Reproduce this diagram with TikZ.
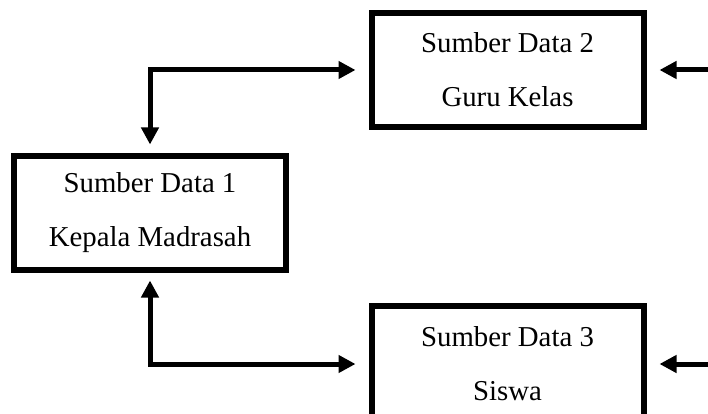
\documentclass[tikz,border=0pt]{standalone}
\usepackage{fontspec}
\setmainfont{Liberation Serif}
\usetikzlibrary{arrows.meta}

\begin{document}
\begin{tikzpicture}
                [
                x=1pt,y=-1pt,
                sumber/.style={draw,line width=6pt,minimum width=272pt,minimum height=114pt,align=center,
                    font=\fontsize{28.8}{54}\selectfont},
                edge/.style={line width=5pt,-{Triangle[length=17pt,width=17pt]}},
                both/.style={line width=5pt,{Triangle[length=17pt,width=17pt]}-{Triangle[length=17pt,width=17pt]}}
                ]
            \clip (0,0) rectangle (708,414);
            \node[sumber] (s1) at (150,212.5) {Sumber Data 1\\Kepala Madrasah};
            \node[sumber] (s2) at (507.5,70) {Sumber Data 2\\Guru Kelas};
            \node[sumber,minimum height=116pt] (s3) at (507.5,364) {Sumber Data 3\\Siswa};
            \coordinate (r2) at (712,70);
            \coordinate (r3) at (712,364);
            \draw[both,shorten <=8pt,shorten >=13pt] (s1) |- (s2);
            \draw[both,shorten <=8pt,shorten >=13pt] (s1) |- (s3);
            \draw[edge,shorten >=13pt] (r2) -- (s2);
            \draw[edge,shorten >=13pt] (r3) -- (s3);
            \end{tikzpicture}
\end{document}
